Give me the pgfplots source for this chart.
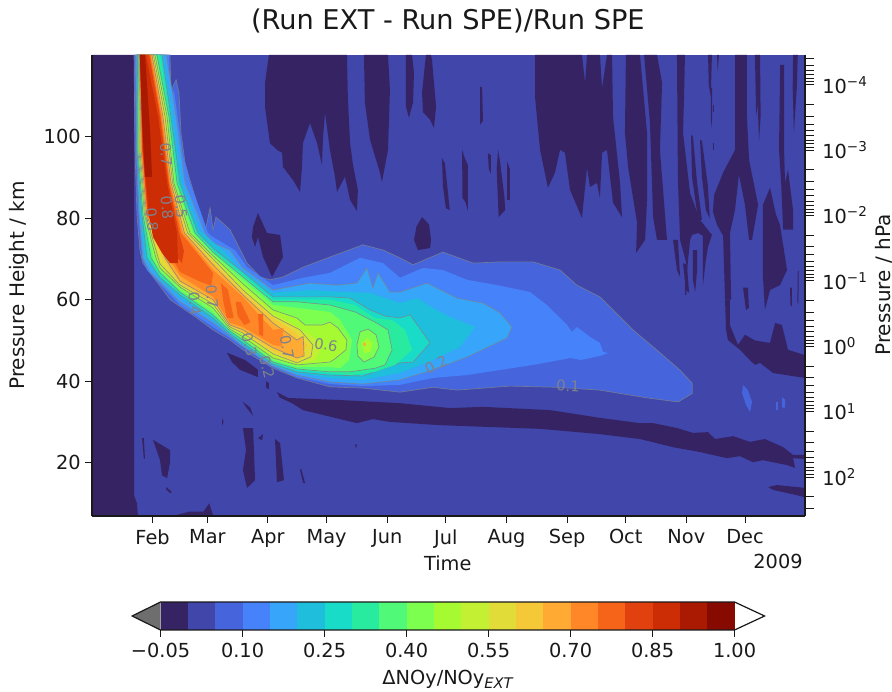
\documentclass[border=0pt]{standalone}
\usepackage{pgfplots}
\usepackage{fontspec}
\setmainfont{DejaVu Sans}
\pgfplotsset{compat=1.18}
\definecolor{A}{RGB}{54,35,100}
\definecolor{B}{RGB}{64,70,170}
\definecolor{L2}{RGB}{70,100,220}
\definecolor{L3}{RGB}{70,130,250}
\definecolor{L4}{RGB}{55,165,250}
\definecolor{L5}{RGB}{30,190,220}
\definecolor{L6}{RGB}{25,220,200}
\definecolor{L7}{RGB}{40,235,160}
\definecolor{L8}{RGB}{80,250,120}
\definecolor{L9}{RGB}{125,255,80}
\definecolor{L10}{RGB}{165,250,50}
\definecolor{L11}{RGB}{195,240,50}
\definecolor{L12}{RGB}{225,220,55}
\definecolor{L13}{RGB}{245,200,55}
\definecolor{L14}{RGB}{255,170,50}
\definecolor{L15}{RGB}{255,135,40}
\definecolor{L16}{RGB}{245,100,25}
\definecolor{L17}{RGB}{225,65,15}
\definecolor{L18}{RGB}{205,45,5}
\definecolor{L19}{RGB}{170,25,2}
\definecolor{L20}{RGB}{135,10,0}
\definecolor{CL}{RGB}{125,130,140}
\definecolor{UN}{RGB}{110,110,110}
\definecolor{TX}{RGB}{25,25,25}
\newcommand{\NEG}[1]{\addplot[fill=A,draw=none] coordinates {#1} --cycle;}
\newcommand{\FL}[2]{\addplot[fill=#1,draw=none] coordinates {#2} --cycle;}
\newcommand{\GL}[2]{\addplot[fill=#1,draw=CL,draw opacity=0.8,line width=0.5pt] coordinates {#2} --cycle;}
\newcommand{\lab}{\fontsize{14.5}{17}\selectfont}
\begin{document}
\begin{tikzpicture}[x=1pt,y=1pt]
\useasboundingbox (0,0) rectangle (669,519);
\begin{axis}[
  at={(69pt,132pt)},anchor=south west,
  scale only axis,width=534.75pt,height=345.75pt,
  xmin=0,xmax=364.7,ymin=6.9,ymax=120.1,
  axis on top,
  axis background/.style={fill=B},
  axis y line*=left,axis x line*=bottom,
  axis line style={line width=0.9pt,draw=TX,-},
  tick style={draw=TX,line width=0.7pt},
  tick align=outside,
  major tick length=5pt,
  xtick={31,59,90,120,151,181,212,243,273,304,334},
  xticklabels={Feb,Mar,Apr,May,Jun,Jul,Aug,Sep,Oct,Nov,Dec},
  ytick={20,40,60,80,100},
  /pgf/number format/assume math mode=true,
  ticklabel style={font=\lab,text=TX},
  xticklabel style={yshift=-1.5pt},
  xlabel={Time},
  xlabel style={at={(axis description cs:0.499,-0.102)},anchor=center,font=\lab,text=TX},
  ylabel={Pressure Height / km},
  ylabel style={at={(axis description cs:-0.102,0.5)},anchor=center,font=\fontsize{15}{17}\selectfont,text=TX},
  title={(Run EXT - Run SPE)/Run SPE},
  title style={at={(axis description cs:0.499,1.074)},anchor=center,yshift=-6pt,font=\fontsize{20.4}{23}\selectfont,text=TX},
]
% --- negative regions
\NEG{(0,120.1)(21.5,120.1)(21.5,12)(23,10)(23.5,6.9)(0,6.9)}
\NEG{(90.5,120.1)(88.5,113.3)(88.5,107.4)(91,98.5)(94.6,96.8)(97.2,96.1)(97.7,92.6)(102.8,89.4)(106.4,86.5)(107.4,92.6)(107.9,98.5)(111.5,103.4)(115.1,98.5)(117.6,93.1)(118.2,100)(119.2,105.9)(121.7,96.8)(124.3,90.2)(125.3,86.5)(129.4,90.2)(132,84.5)(135.5,81.8)(136,87)(133.5,93.1)(132,98.5)(130.9,109.1)(130.4,120.1)}
\NEG{(139.1,120.1)(139.6,108.4)(142.2,99.3)(147.3,91.2)(148.3,88.9)(151.4,96.8)(152.4,111.5)(151.4,120.1)}
\NEG{(160.6,120.1)(160.6,107.4)(162.1,104.7)(164.2,108.4)(164.7,115.7)(163.7,120.1)}
\NEG{(170.8,120.1)(168.8,110.8)(169.3,106.1)(172.9,104.2)(174.9,102.2)(176,107.4)(173.9,118.9)(173.4,120.1)}
\NEG{(198.5,112.3)(199.5,112.3)(200,104)(198.5,103)}
\NEG{(179,94.8)(180.5,93.5)(183,82)(181,82.5)(179.5,88)}
\NEG{(189.3,96.8)(190.5,95)(192.3,93)(192.3,81.8)(191,84)(189.5,85)}
\NEG{(202.5,96)(204,95.5)(204,91)(203,92)}
\NEG{(207.7,96.8)(208.7,94)(211,85)(211.3,82)(208,80.3)(207.5,86)(207,92)}
\NEG{(212.3,94)(213.8,92)(213.8,84.5)(212.3,84.5)}
\NEG{(164.7,74.7)(166,78)(168.8,80.3)(172.4,78.5)(173.4,74.7)(172.9,72.7)(166.7,72.2)}
\NEG{(82.4,77.9)(84.9,81.3)(89.5,76.4)(96.2,75.9)(97.7,70.5)(92.1,65.6)(87.5,70.5)(84.9,75.4)(83.4,73)(81.8,75.4)}
\NEG{(226.6,120.1)(226.6,109.8)(229.2,96.8)(233.2,87.5)(236.8,91.2)(239.4,96.8)(241.9,96.1)(244.5,87)(250.6,80.1)(253.2,92.4)(254.7,87.7)(258.3,88.7)(259.8,85)(260.9,96.1)(263.4,96.8)(266.5,83.8)(271.1,80.3)(270.1,88.7)(266.5,104.9)(266,120.1)(263.4,120.1)(260.9,112)(259.8,120.1)(253.2,120.1)(252.2,113.3)(250.6,120.1)}
\NEG{(273.1,120.1)(272.6,101)(274.2,92.6)(278.8,78.9)(278.3,71.5)(282.9,74.7)(283.9,84.5)(283.9,101)(280.3,120.1)}
\NEG{(282.4,120.1)(285.4,103.4)(287,80.3)(289,74.7)(294.1,74.7)(290.5,96.8)(291.6,113.3)(289,120.1)}
\NEG{(297.2,74.7)(299.7,74.7)(300.8,65.6)(299.2,67.3)}
\NEG{(302.3,69)(304.3,68.6)(305.4,61.7)(303.8,62.4)}
\NEG{(299.2,120.1)(299.7,89.4)(300.8,74.7)(303.8,69.3)(304.3,66.8)(305.9,74.7)(306.9,75.9)(310,76.4)(312.5,75.7)(312.5,63.6)(314,69.8)(315.1,73)(317.1,75.9)(311,79.6)(305.9,86.2)(302.3,101)(302.8,109.1)(303.3,120.1)}
\NEG{(307.4,72.2)(309.5,72.2)(309.5,67.3)(308.5,61.9)(307.4,64.9)}
\NEG{(328.9,120.1)(328.9,96.8)(322.8,91.2)(318.2,85.7)(317.6,81.6)(319.7,78.4)(322.8,75.7)(323.8,60)(326.9,60)(326.3,76.4)(328.9,82.1)(330.9,90.7)(334,83.3)(336.1,74.7)(337.6,74.7)(340.7,83.3)(336.1,94.3)(335,104.9)(335,120.1)}
\NEG{(346.8,87.5)(343.2,83.3)(343.2,65.6)(344.2,57.5)(346.8,62.4)(351.9,63.6)(355.5,67.3)(351.9,78.4)(349.9,80.8)}
\NEG{(352,117.7)(354,117.7)(354,96.8)(354.5,88.7)(356,91.9)(358.6,82)(358.6,77.2)(353.5,77.2)(352.5,88.7)(351.4,96.8)}
\NEG{(358.6,120.1)(361,120.1)(360.5,112)(359,101)(358.4,112)}
\NEG{(315.1,120.1)(317.1,120.1)(316.5,110)(315.5,112.5)}
\NEG{(319.7,120.1)(320.7,120.1)(320,116)}
\NEG{(316.6,112)(317.2,112)(317.1,102)(316.6,104)}
\NEG{(339.1,120.1)(341.7,120.1)(342,105)(341.2,99)(340.5,108)(339.7,105)}
\NEG{(306.4,100.5)(307.4,100)(309.5,88.7)(312,79.6)(310,79.6)(306.9,90.2)}
\NEG{(311,99.3)(312,99)(315,88)(316,80)(314,82)(312,90)}
\NEG{(330.4,98.5)(331,98.5)(331,95.6)(330.4,95.6)}
\NEG{(317.6,98.5)(318.3,98.5)(318.3,96.8)(317.6,96.8)}
\NEG{(317.6,107.9)(318.3,107.9)(318.3,106)(317.6,106)}
\NEG{(357,63)(358,63)(358,58.5)(357.3,58.5)}
\NEG{(361,67)(361.5,67)(361.3,59)(360.8,59.5)}
\NEG{(333,63)(335.5,63)(336,58)(334.5,57.5)}
\NEG{(303.3,65.6)(304,65.6)(304,61.2)(303.4,61.2)}
\NEG{(323.8,60)(324.3,52.6)(325.3,50.1)(331.5,47.7)(335,45.9)(339.1,44)(341.7,44.5)(348.4,42)(364.7,40.8)(364.7,46.4)(356,47.7)(352.9,53.8)(349.4,54.3)(346.8,49.4)(339.1,50)(334,51.4)(330.4,48.9)(326.3,53.8)(326.3,60)}
\NEG{(99.7,35.9)(125.8,35.4)(157.5,34.6)(183.1,33.4)(200,33.7)(234.3,32.9)(259.8,31)(280.3,29.7)(287,29.7)(299.2,28.5)(307.4,27.3)(315.1,27.5)(318.7,25.8)(327.9,26.5)(336.6,25.1)(344.2,25.8)(353.5,23.8)(358.6,21.9)(364.7,21.9)(364.7,20.9)(358.6,21.1)(359.6,18.7)(355.5,19.4)(343.2,20.6)(338.1,20.1)(331.5,21.6)(324.8,21.1)(311,22.6)(297.2,23.8)(280.3,25.8)(259.8,27)(229.2,28.3)(178,29.2)(152.4,30)(143.7,30.7)(135.5,29.7)(118.2,31.7)(107.9,32.9)(99.7,35.4)}
\NEG{(345.8,14)(350.4,14.5)(364.7,13.8)(364.7,11.5)(360.6,12)(348.4,13.3)}
\NEG{(77.2,28.5)(82.4,28.5)(83.4,15.7)(79.3,13.8)(77.2,18.2)(78.8,23.1)}
\NEG{(93.6,25.8)(96.2,24.8)(98.2,15.7)(94.6,15.2)}
\NEG{(31.2,25.6)(39.9,23.1)(39.9,20)(38.4,16.2)(35.8,16.9)(34.8,20.6)}
\NEG{(25.6,26)(26.5,26)(27.1,21)(26.5,21)}
\NEG{(37.9,14)(40.9,12.8)(40,12.5)(37.9,13.5)}
\NEG{(106.4,18.2)(107,18.5)(109,15)(108,15)}
\NEG{(66.5,31)(67.3,30)(66.5,29)}
\NEG{(84.9,26)(87.5,27)(87,25.5)}
\NEG{(134.5,24.5)(135.5,24.5)(135,23.5)}
\NEG{(41.4,6.9)(50,8)(57,8)(60,10)(61,8.5)(62,6.9)}
\NEG{(69,47)(78.3,45.2)(84.9,42.8)(84.9,41)(75.7,42.8)(71.6,44.7)}
\NEG{(89,40)(90.5,39.5)(90.5,38)(89,38.5)}
\NEG{(94.6,37.3)(102,35.5)(102.8,34.5)(96,36)}
\NEG{(77,35)(81,33.5)(82.4,31.5)(79,33.5)}
% --- positive contour bands
\GL{L2}{(21.5,120.1)(22,96.8)(23,80.8)(24.5,72.2)(26,69)(40,60)(53.7,55.5)(61.9,52.6)(70.6,50.1)(77.2,47.7)(92.6,43.2)(104.9,40.8)(121.7,38.6)(138.6,38.3)(157.5,37.3)(174.4,38.5)(186.7,37.8)(213.8,38.8)(237.8,38.5)(259.8,37.8)(283.9,35.9)(299.8,34.9)(307,37)(307,39.5)(300.8,42.7)(290.5,47)(276.7,52.6)(259.8,60.7)(248,63.6)(239.4,67.3)(225.6,69.3)(208.7,69.3)(195,69)(179.5,71.7)(164.2,68.6)(157.5,70.3)(148.9,72.2)(138.6,73.5)(121.7,70.5)(108,68)(97.7,65.6)(91,64.9)(86,65.6)(79.3,69)(70.6,77.2)(63.4,80.3)(61.9,77.2)(60.4,82.6)(57.8,76.7)(53.7,83.8)(50.1,89.4)(47.6,93.6)(45.5,101)(44.5,110.8)(43,114)(41.4,112.3)(40.4,110.8)(39.9,120.1)}
\FL{L2}{(333,39.1)(335.5,37.8)(337.6,34.9)(336.6,32.4)(334.5,34.2)(332.5,37.1)}
\FL{L2}{(350,35)(351,35)(351,33)(350,33)}
\FL{L2}{(353,36)(354.5,35.5)(354.5,33.5)(353,33.5)}
\FL{L3}{(22,120.1)(22.5,96.8)(23.5,82.1)(25.6,70.3)(28.1,67.3)(36.3,63.1)(45,58.7)(61.9,53.3)(70.6,50.6)(77.2,48.4)(92.6,43.5)(104.9,41)(121.7,39.3)(138.6,38.8)(157.5,39.1)(174.4,40.8)(191.8,41.5)(225.6,44)(245,45.7)(250,45.2)(259.8,46.2)(263.9,46.9)(261.4,47.2)(259.8,49.4)(254.7,50.9)(248,53.3)(245.5,52.1)(243,53.8)(232.7,58.7)(224,61.9)(207.2,63.6)(191.8,64.9)(179.5,67.3)(169.3,67.8)(157.5,65.4)(148.9,69)(137.1,70.3)(121.7,66.6)(108,65.4)(92.6,63.6)(79.3,68)(73.1,72.2)(61.9,75.4)(59.3,76.4)(55.2,82.1)(50.1,88.7)(46.5,95.6)(44,104.2)(41.9,111.5)(39.9,109)(39.4,120.1)}
\GL{L4}{(22.5,120.1)(22.75,96.8)(24,82.1)(26,70.3)(29.7,66.8)(34.8,64.4)(45,59.5)(61.9,54.3)(70.6,51.1)(77.2,48.6)(92.6,43.7)(104.9,41.5)(121.7,39.8)(138.6,39.3)(157.5,40.3)(174.4,42.8)(191.8,45.9)(212.3,50.6)(214.8,53.3)(208.7,56.8)(200,59.2)(186.7,60.4)(171.4,64.1)(157.5,61.9)(152.4,61.9)(146.3,66.6)(143.7,62.9)(140.7,67.8)(135.5,64.1)(125.3,63.6)(111.5,64.1)(92.6,62.4)(76.7,68)(70.6,72.2)(61.9,74)(57.8,76.4)(47.6,88.7)(43,104.9)(40.9,111.5)(37.9,120.1)}
\FL{L5}{(23,120.1)(23,96.8)(24.5,82.1)(27.1,70.3)(34.8,64.9)(45,60.7)(61.9,55)(70.6,51.4)(77.2,48.9)(92.6,44)(104.9,42)(121.7,40.8)(138.6,40.3)(157.5,42)(174.4,45.2)(188.2,48.4)(195.9,53.3)(183.1,55.8)(174.4,58)(166.2,60.4)(157.5,59.2)(142.2,61.7)(129.4,61.9)(111.5,62.4)(92.6,61.7)(74.7,67.8)(68,71.7)(55.2,76.9)(46,88.7)(41.4,104.9)(36.3,120.1)}
\GL{L6}{(23.3,120.1)(23,96.8)(25.6,80.8)(28.1,70.3)(34.8,65.4)(45,61.2)(61.9,55.5)(70.6,51.6)(77.2,49.4)(92.6,44.2)(104.9,42.3)(121.7,41.5)(138.6,41.3)(157.5,44.5)(164.2,44.7)(172.9,49.4)(162.7,56.3)(157.5,55.5)(149.9,56)(142.2,57.5)(132,60.4)(121.7,60.7)(104.9,60.7)(92.6,60.7)(77.2,66.8)(61.9,72.7)(54.2,76.4)(45,88.7)(40.4,104.9)(35.8,120.1)}
\FL{L7}{(23.5,120.1)(23.3,96.8)(25.8,80.8)(29.2,70.3)(34.8,65.9)(45,61.7)(61.9,56)(70.6,52.1)(77.2,49.6)(92.6,44.5)(104.9,42.8)(121.7,42)(132,41.5)(144.8,42.3)(155,44)(163.7,47.7)(160.1,52.6)(153.5,55)(144.8,55.5)(134.5,58.7)(121.7,60)(104.9,60)(92.6,60)(77.2,66.1)(61.9,72.2)(53.5,76.4)(44.2,88.7)(39.9,104.9)(34.8,120.1)}
\GL{L8}{(23.7,120.1)(23.5,96.8)(26.1,80.8)(30.2,70.3)(34.8,66.6)(45,61.9)(61.9,56.3)(70.6,52.3)(77.2,50.1)(92.6,44.7)(104.9,43)(121.7,42.3)(132,42.3)(144.8,43.2)(149.9,44)(153.5,47.7)(151.4,52.6)(144.8,54.5)(134.5,57)(121.7,58.7)(104.9,59.5)(92.6,59.5)(77.2,65.6)(61.9,71.7)(52.7,76.4)(43.5,88.7)(39.4,104.9)(33.2,120.1)}
\FL{L9}{(24,120.1)(23.7,96.8)(26.6,80.8)(31.2,70.3)(34.8,67.1)(45,62.4)(61.9,57)(70.6,52.6)(77.2,50.5)(92.6,45.2)(104.9,43.5)(121.7,43.5)(126.9,43.2)(131.5,45.2)(133,50.1)(126.9,55)(121.7,57)(104.9,58)(92.6,58.7)(77.2,64.9)(61.9,71.3)(51.7,76.4)(42.7,88.7)(38.9,104.9)(32.7,120.1)}
\GL{L9}{(135.5,48.9)(137.1,52.1)(141.2,52.8)(145.3,51.4)(146.8,48.4)(144.2,45.9)(139.1,44.7)(136,46.2)}
\FL{L10}{(138.1,49.4)(140.7,50.6)(143.7,49.4)(142.2,47.2)(139.1,46.9)}
\FL{L14}{(138.6,49.2)(139.6,49.6)(140.1,48.9)(139.1,48.6)}
\GL{L10}{(24.3,120.1)(24,96.8)(26.9,80.8)(32.7,70.3)(34.8,67.8)(45,63.1)(61.9,58)(70.6,52.8)(77.2,50.9)(92.6,45.7)(104.9,44)(121.7,44.7)(124.3,45.5)(129.9,47.7)(130.4,50.1)(125.8,53.1)(121.7,54.5)(117.6,53.8)(108.9,53.8)(104.9,55.5)(92.6,57.5)(77.2,63.9)(61.9,70.8)(50.1,76.4)(41.9,88.7)(38.4,104.9)(32.2,120.1)}
\FL{L11}{(24.5,120.1)(24.3,96.8)(27.1,80.8)(33.8,70.3)(34.8,68.3)(45,63.4)(61.9,58.5)(70.6,53.1)(77.2,51.4)(92.6,46.2)(104.9,44.2)(114.1,45.2)(118,48.9)(111.5,51.4)(104.9,53.3)(92.6,56.8)(77.2,63.1)(61.9,70.3)(49.3,76.4)(41.4,88.7)(37.9,104.9)(31.7,120.1)}
\GL{L12}{(24.5,120.1)(24.5,96.8)(27.4,80.8)(34.8,68.8)(45,63.6)(61.9,59)(70.6,53.3)(77.2,51.8)(92.6,46.7)(104.9,44.5)(112,46)(113,48.9)(106.4,52.6)(92.6,56)(77.2,62.4)(61.9,70)(48.9,76.4)(41.2,88.7)(37.4,104.9)(31.4,120.1)}
\FL{L13}{(24.5,120.1)(24.8,96.8)(27.6,80.8)(35.8,70.3)(45,64.1)(61.9,59.5)(70.6,53.6)(77.2,52.1)(92.6,47.4)(104.9,45)(110,48.9)(104,52)(92.6,55.5)(77.2,61.9)(61.9,69.3)(48.1,76.4)(40.9,88.7)(36.8,104.9)(31.2,120.1)}
\GL{L14}{(24.5,120.1)(25.1,96.8)(27.9,80.8)(37.3,70.3)(45,64.6)(61.9,60)(70.6,53.8)(77.2,52.6)(92.6,48.2)(104.9,45.7)(108.5,46.2)(108,51)(104.9,50.1)(92.6,54.3)(77.2,61.2)(61.9,68.6)(47.3,76.4)(40.4,88.7)(36.3,104.9)(30.7,120.1)}
\FL{L15}{(24.5,120.1)(25.4,96.8)(28.1,80.8)(38.9,70.3)(45,65.9)(61.9,60.7)(70.6,54.3)(77.2,53.3)(92.6,48.9)(97,48.5)(98,53)(92.6,52.6)(84,57)(77.2,60.7)(61.9,67.3)(46.5,76.4)(39.9,88.7)(35.8,104.9)(30.2,120.1)}
\FL{L16}{(24.5,120.1)(25.6,96.8)(28.4,80.8)(40.9,70.3)(45,66.8)(55,64.5)(61,63.5)(62,66.5)(45.5,76.4)(39.6,88.7)(35.3,104.9)(29.7,120.1)}
\FL{L16}{(66,64)(69.5,62.5)(72.5,55.5)(69,55.5)(67,60)}
\FL{L16}{(73.5,59.5)(76,59.5)(81,54.5)(78,53.8)(74.5,56)}
\FL{L16}{(85,56.5)(87.5,56.5)(87.5,51)(85.5,51.5)}
\FL{L17}{(24.5,120.1)(25.8,96.8)(28.6,80.8)(42.5,71)(46,69)(47,72)(44.5,76.4)(39.1,88.7)(34.8,104.9)(29.2,120.1)}
\FL{L18}{(24.5,120.1)(26.1,96.8)(29.2,80.8)(31.2,75.4)(35.8,71.5)(39.9,69)(44,69)(43.5,76.4)(38.4,88.7)(33.8,104.9)(27.6,120.1)}
\FL{L19}{(24.5,120.1)(25.6,104.2)(27.1,90.2)(30.7,90.2)(29.7,101.7)(27.1,120.1)}
% --- contour labels
\begin{scope}[every node/.style={text=CL,font=\fontsize{11}{13}\selectfont,inner sep=0pt}]
\node[rotate=-3] at (axis cs:243.5,38.8) {0.1};
\node[rotate=25] at (axis cs:176,44) {0.2};
\node[rotate=-10] at (axis cs:119.7,48.9) {0.6};
\node[rotate=-85] at (axis cs:37.9,95.6) {0.7};
\node[rotate=-85] at (axis cs:38.4,82.5) {0.8};
\node[rotate=-85] at (axis cs:45.5,82.8) {0.5};
\node[rotate=-85] at (axis cs:30.7,79.6) {0.8};
\node[rotate=-85] at (axis cs:61.4,60.7) {0.7};
\node[rotate=-85] at (axis cs:52.5,59) {0.4};
\node[rotate=-75] at (axis cs:80.5,49) {0.3};
\node[rotate=-75] at (axis cs:89.5,43.5) {0.2};
\node[rotate=-80] at (axis cs:99.7,48.4) {0.7};
\end{scope}
\end{axis}
% --- pressure axis
\begin{axis}[
  at={(69pt,132pt)},anchor=south west,
  scale only axis,width=534.75pt,height=345.75pt,
  xmin=0,xmax=1,
  ymode=log,y dir=reverse,ymin=3.5e-5,ymax=393.6,
  hide x axis,
  axis y line*=right,
  axis line style={line width=0.9pt,draw=TX,-},
  tick style={draw=TX,line width=0.7pt},
  tick align=outside,
  major tick length=6.5pt,minor tick length=6.5pt,
  ytick={1e-4,1e-3,1e-2,1e-1,1,10,100},
  yticklabels={10\textsuperscript{−4},10\textsuperscript{−3},10\textsuperscript{−2},10\textsuperscript{−1},10\textsuperscript{0},10\textsuperscript{1},10\textsuperscript{2}},
  minor ytick={4e-5,5e-5,6e-5,7e-5,8e-5,9e-5,2e-4,3e-4,4e-4,5e-4,6e-4,7e-4,8e-4,9e-4,2e-3,3e-3,4e-3,5e-3,6e-3,7e-3,8e-3,9e-3,2e-2,3e-2,4e-2,5e-2,6e-2,7e-2,8e-2,9e-2,0.2,0.3,0.4,0.5,0.6,0.7,0.8,0.9,2,3,4,5,6,7,8,9,20,30,40,50,60,70,80,90,200,300},
  ticklabel style={font=\lab,text=TX},
  yticklabel style={xshift=3pt},
  ylabel={Pressure / hPa},
  ylabel style={at={(axis description cs:1.111,0.501)},anchor=center,rotate=0,font=\fontsize{15}{17}\selectfont,text=TX},
]
\addplot[draw=none,forget plot] coordinates {(0,1)(1,1)};
\end{axis}
% --- colour bar
\begin{axis}[
  at={(120.4pt,46.5pt)},anchor=south west,
  scale only axis,width=430.5pt,height=21pt,
  xmin=-0.05,xmax=1,ymin=0,ymax=1,
  clip=false,
  axis y line=none,axis x line*=bottom,
  axis line style={draw=none},
  tick style={draw=TX,line width=0.7pt},
  tick align=outside,major tick length=5pt,
  xtick={-0.05,0.10,0.25,0.40,0.55,0.70,0.85,1.00},
  xticklabels={−0.05,0.10,0.25,0.40,0.55,0.70,0.85,1.00},
  ticklabel style={font=\lab,text=TX},
  xticklabel style={yshift=-1pt},
  xlabel={ΔNOy/NOy\raisebox{-0.35ex}{\fontsize{11}{12}\selectfont\itshape EXT}},
  xlabel style={at={(axis description cs:0.5,-1.77)},anchor=center,font=\lab,text=TX},
]
\FL{UN}{(-0.05,0)(-0.102,0.5)(-0.05,1)}
\FL{white}{(1,0)(1.055,0.5)(1,1)}
\FL{A}{(-0.05,0)(0,0)(0,1)(-0.05,1)}
\FL{B}{(0,0)(0.05,0)(0.05,1)(0,1)}
\FL{L2}{(0.05,0)(0.10,0)(0.10,1)(0.05,1)}
\FL{L3}{(0.10,0)(0.15,0)(0.15,1)(0.10,1)}
\FL{L4}{(0.15,0)(0.20,0)(0.20,1)(0.15,1)}
\FL{L5}{(0.20,0)(0.25,0)(0.25,1)(0.20,1)}
\FL{L6}{(0.25,0)(0.30,0)(0.30,1)(0.25,1)}
\FL{L7}{(0.30,0)(0.35,0)(0.35,1)(0.30,1)}
\FL{L8}{(0.35,0)(0.40,0)(0.40,1)(0.35,1)}
\FL{L9}{(0.40,0)(0.45,0)(0.45,1)(0.40,1)}
\FL{L10}{(0.45,0)(0.50,0)(0.50,1)(0.45,1)}
\FL{L11}{(0.50,0)(0.55,0)(0.55,1)(0.50,1)}
\FL{L12}{(0.55,0)(0.60,0)(0.60,1)(0.55,1)}
\FL{L13}{(0.60,0)(0.65,0)(0.65,1)(0.60,1)}
\FL{L14}{(0.65,0)(0.70,0)(0.70,1)(0.65,1)}
\FL{L15}{(0.70,0)(0.75,0)(0.75,1)(0.70,1)}
\FL{L16}{(0.75,0)(0.80,0)(0.80,1)(0.75,1)}
\FL{L17}{(0.80,0)(0.85,0)(0.85,1)(0.80,1)}
\FL{L18}{(0.85,0)(0.90,0)(0.90,1)(0.85,1)}
\FL{L19}{(0.90,0)(0.95,0)(0.95,1)(0.90,1)}
\FL{L20}{(0.95,0)(1,0)(1,1)(0.95,1)}
\addplot[draw=TX,line width=0.9pt] coordinates {(-0.05,0)(-0.102,0.5)(-0.05,1)(1,1)(1.055,0.5)(1,0)} --cycle;
\end{axis}
\node[text=TX,font=\lab,anchor=center] at (583.5pt,98pt) {2009};
\end{tikzpicture}
\end{document}
